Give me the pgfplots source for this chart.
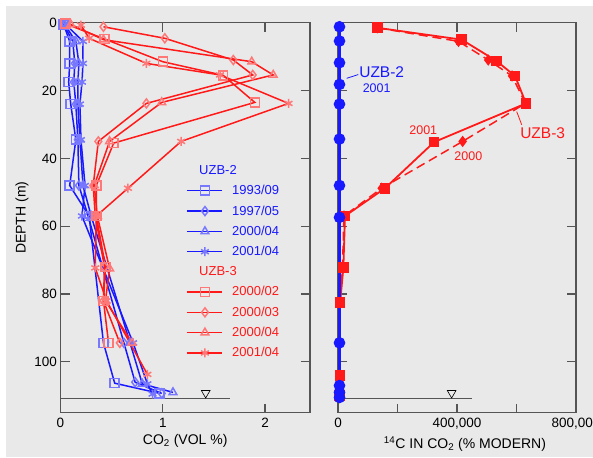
\documentclass[border=0pt]{standalone}
\usepackage{fontspec}
\setmainfont{Liberation Sans}
\usepackage{pgfplots}
\pgfplotsset{compat=1.18}
\definecolor{bg}{RGB}{233,233,233}
\definecolor{ax}{RGB}{85,85,85}
\definecolor{myblue}{RGB}{25,25,255}
\definecolor{myred}{RGB}{255,25,25}
\definecolor{lblue}{RGB}{120,120,255}
\definecolor{lred}{RGB}{255,120,120}
\begin{document}
\begin{tikzpicture}
\path[use as bounding box] (0pt,0pt) rectangle (593pt,-457pt);
\fill[white] (0pt,0pt) rectangle (593pt,-457pt);
\fill[bg] (6pt,-6pt) rectangle (593pt,-457pt);
\pgfplotsset{
  every axis/.append style={
    scale only axis, anchor=south west, clip=false,
    y dir=reverse, ymin=0, ymax=115, ytick={0,20,...,100},
    tick align=inside, major tick length=9pt,
    axis line style={ax, line width=1.3pt},
    tick style={ax, line width=1.3pt},
    tick label style={font=\fontsize{13.5}{16}\selectfont},
    xticklabel style={yshift=-2pt},
    label style={font=\fontsize{14}{16}\selectfont},
    /pgf/number format/assume math mode=true,
    scaled x ticks=false,
  },
  lg/.style={line width=1.5pt, mark size=4.5pt, mark options={solid, line width=0.8pt, fill=none}},
}
\begin{axis}[
  at={(60.5pt,-412.7pt)}, width=249.5pt, height=390pt,
  xmin=0, xmax=2.44, xtick={0,1,2},
  xlabel={CO\textsubscript{2} (VOL \%)},
  ylabel={DEPTH (m)},
  xlabel style={yshift=0pt},
  ylabel style={yshift=-1pt},
  legend style={at={(0.505,0.64)}, anchor=north west, draw=none, fill=none,
    font=\fontsize{13}{15}\selectfont, row sep=5.4pt, column sep=7pt, inner sep=0pt},
  legend cell align=left,
  legend image code/.code={\draw[mark repeat=2,mark phase=2,#1] plot coordinates {(0pt,0pt)(17.5pt,0pt)(35pt,0pt)};},
]
\addplot[forget plot, ax, line width=1pt] coordinates {(0,110.7)(1.66,110.7)};
\addplot[forget plot, only marks, mark=triangle, mark size=5pt, mark options={rotate=180, fill=white, draw=black, line width=0.6pt}] coordinates {(1.42,109.2)};

\addlegendimage{empty legend}
\addlegendentry[text=myblue]{\hspace*{-33pt}UZB-2}
\addplot[lg, myblue, mark=square, mark options={draw=lblue}] coordinates {(0.03,0.5)(0.09,5.5)(0.09,12)(0.08,17.5)(0.10,24)(0.15,34.5)(0.09,48)(0.28,57)(0.42,94.4)(0.53,106.3)(0.97,109.3)};
\addlegendentry[text=myblue]{1993/09}
\addplot[lg, myblue, mark=diamond, mark options={draw=lblue}] coordinates {(0.03,0.5)(0.12,5.5)(0.14,12)(0.13,17.5)(0.15,24)(0.17,34.5)(0.18,48)(0.27,57)(0.62,94.4)(0.73,106)(0.99,109.3)};
\addlegendentry[text=myblue]{1997/05}
\addplot[lg, myblue, mark=triangle, mark options={draw=lblue}] coordinates {(0.04,0.5)(0.15,5.5)(0.18,12)(0.17,17.5)(0.17,24)(0.19,34.5)(0.22,48)(0.30,57)(0.68,94.4)(0.80,106.5)(1.10,109)};
\addlegendentry[text=myblue]{2000/04}
\addplot[lg, myblue, mark=asterisk, mark options={draw=lblue}] coordinates {(0.05,0.5)(0.22,5.5)(0.22,12)(0.21,17.5)(0.19,24)(0.20,34.5)(0.24,48)(0.21,57)(0.71,94.4)(0.85,106.5)(0.90,109.5)};
\addlegendentry[text=myblue]{2001/04}

\addlegendimage{empty legend}
\addlegendentry[text=myred]{\hspace*{-33pt}UZB-3}
\addplot[lg, myred, mark=square, mark options={draw=lred}] coordinates {(0.05,0.3)(0.43,4.8)(1.00,11.5)(1.59,15.5)(1.90,23.5)(0.52,35.5)(0.35,48)(0.35,57)(0.44,72)(0.42,82)(0.47,94.4)};
\addlegendentry[text=myred]{2000/02}
\addplot[lg, myred, mark=diamond, mark options={draw=lred}] coordinates {(0.42,1.2)(1.02,4.6)(1.69,11)(1.88,15.4)(0.84,23.8)(0.37,35)(0.32,48)(0.34,57)(0.43,72)(0.42,82)(0.58,94.4)};
\addlegendentry[text=myred]{2000/03}
\addplot[lg, myred, mark=triangle, mark options={draw=lred}] coordinates {(0.10,0.5)(0.42,5)(1.87,11.5)(2.08,15.4)(0.99,23.5)(0.48,35)(0.33,48)(0.36,57)(0.48,72.5)(0.44,82)(0.70,94.4)};
\addlegendentry[text=myred]{2000/04}
\addplot[lg, myred, mark=asterisk, mark options={draw=lred}] coordinates {(0.20,0.7)(0.28,4.6)(0.84,12)(1.56,15.4)(2.23,23.8)(1.18,35)(0.66,48.8)(0.35,57)(0.34,72.3)(0.45,82)(0.85,103.7)};
\addlegendentry[text=myred]{2001/04}
\end{axis}

\begin{axis}[
  at={(338pt,-412.7pt)}, width=238pt, height=390pt,
  xmin=0, xmax=800000, xtick={0,200000,400000,600000,800000},
  xticklabels={0,,{400,000},,{800,000}},
  yticklabels={},
  xlabel={\textsuperscript{14}C IN CO\textsubscript{2} (\% MODERN)},
  xlabel style={xshift=8pt},
]
\addplot[ax, line width=1pt] coordinates {(0,110.7)(449000,110.7)};
\addplot[only marks, mark=triangle, mark size=5pt, mark options={rotate=180, fill=white, draw=black, line width=0.6pt}] coordinates {(382000,109.2)};
\addplot[myred, line width=1.5pt, dash pattern=on 9pt off 5pt, mark=diamond*, mark size=4.5pt, mark options={solid, fill=myred}] coordinates {(132000,1.5)(405000,5.5)(505000,11)(585000,15.7)(630000,23.8)(419000,35)(147000,48.8)(20000,57)(15000,72.3)(7000,82.6)(5000,104)};
\addplot[myred, line width=1.8pt, mark=square*, mark size=4.5pt, mark options={fill=myred}] coordinates {(132000,1.5)(416000,5)(533000,11.3)(595000,15.7)(632000,23.8)(323000,35.2)(158000,48.8)(23500,57)(18000,72.3)(7000,82.6)(7000,104)(5000,110)};
\addplot[myblue, line width=2.5pt, mark=*, mark size=4.5pt, mark options={fill=myblue}] coordinates {(5000,1.2)(5000,5.4)(5000,11.8)(5000,18.2)(5000,24)(5000,34.3)(5000,48)(5000,57.4)(5000,94.4)(5000,107)(5000,109)(5000,110.5)};
\draw[myblue, line width=0.8pt] (axis cs:29000,16.4) -- (axis cs:68000,15.3);
\draw[myred, line width=0.8pt] (axis cs:600700,26.2) -- (axis cs:617500,30.1);
\node[text=myblue, font=\fontsize{15.5}{17}\selectfont] at (axis cs:146900,14.5) {UZB-2};
\node[text=myblue, font=\fontsize{12.5}{14}\selectfont] at (axis cs:130000,19.4) {2001};
\node[text=myred, font=\fontsize{12.5}{14}\selectfont] at (axis cs:286700,31.6) {2001};
\node[text=myred, font=\fontsize{15.5}{17}\selectfont] at (axis cs:688000,32.6) {UZB-3};
\node[text=myred, font=\fontsize{12.5}{14}\selectfont] at (axis cs:438000,39.5) {2000};
\end{axis}
\end{tikzpicture}
\end{document}
